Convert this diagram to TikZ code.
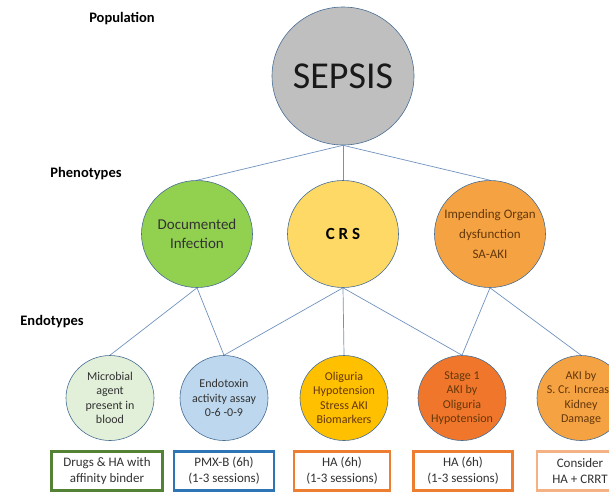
\documentclass[tikz,border=0pt]{standalone}
\usepackage{fontspec}
\setmainfont{Carlito}
\usetikzlibrary{shapes.geometric}

\definecolor{rimblue}{RGB}{72,110,150}
\definecolor{linkblue}{RGB}{112,146,190}
\definecolor{sepsisgray}{RGB}{191,191,191}
\definecolor{infgreen}{RGB}{146,208,80}
\definecolor{crsyellow}{RGB}{255,217,102}
\definecolor{organorange}{RGB}{245,163,66}
\definecolor{microgreen}{RGB}{226,240,217}
\definecolor{toxinblue}{RGB}{189,215,238}
\definecolor{oligold}{RGB}{255,192,0}
\definecolor{stagered}{RGB}{239,118,42}
\definecolor{akiorange}{RGB}{245,162,66}
\definecolor{boxgreen}{RGB}{84,130,53}
\definecolor{boxblue}{RGB}{46,117,182}
\definecolor{boxorange}{RGB}{237,125,49}
\definecolor{boxpeach}{RGB}{244,177,131}
\definecolor{txtgray}{RGB}{50,50,50}
\definecolor{txtbrown}{RGB}{100,55,10}

\tikzset{
  blob/.style={ellipse, draw=rimblue, line width=0.6pt, inner sep=-10pt, align=center},
  pheno/.style={blob, minimum width=111pt, minimum height=107pt},
  endo/.style={blob, minimum width=88pt, minimum height=85pt, font=\fontsize{12}{14.5}\selectfont},
  treat/.style={draw, line width=2.6pt, fill=white, minimum height=39pt, inner sep=0pt,
    align=center, text=txtgray, font=\fontsize{13}{16}\selectfont},
  link/.style={draw=linkblue, line width=0.7pt},
  level/.style={font=\bfseries\fontsize{14.5}{17}\selectfont}
}

\begin{document}
\begin{tikzpicture}[x=1pt,y=-1pt]
  \useasboundingbox (0,0) rectangle (609,493);
  \clip (0,0) rectangle (609,493);

  % levels
  \node[level] (pop) at (122,19) {Population};
  \node[level] (phen) at (86,174) {Phenotypes};
  \node[level] (endt) at (52,322) {Endotypes};

  % population
  \node[blob, fill=sepsisgray, minimum width=142pt, minimum height=138pt,
    font=\fontsize{38}{42}\selectfont, text=black!90] (sepsis) at (343,76) {SEPSIS};

  % phenotypes
  \node[pheno, fill=infgreen, text=txtgray, font=\fontsize{15}{19}\selectfont] (infect) at (197,234) {Documented\\Infection};
  \node[pheno, fill=crsyellow, font=\bfseries\fontsize{17}{20}\selectfont] (crs) at (343,234) {C R S};
  \node[pheno, fill=organorange, text=txtbrown, font=\fontsize{13}{20}\selectfont] (organ) at (490,234) {Impending Organ\\dysfunction\\SA-AKI};

  % endotypes
  \node[endo, fill=microgreen, text=txtgray] (microb) at (110,398) {Microbial\\agent\\present in\\blood};
  \node[endo, fill=toxinblue, text=txtgray] (toxin) at (224,398) {Endotoxin\\activity assay\\0-6 -0-9};
  \node[endo, fill=oligold, text=txtbrown] (oligo) at (344,398) {Oliguria\\Hypotension\\Stress AKI\\Biomarkers};
  \node[endo, fill=stagered, text=txtbrown] (stage) at (462,398) {Stage 1\\AKI by\\Oliguria\\Hypotension};
  \node[endo, fill=akiorange, text=txtbrown] (aki) at (581,398) {AKI by\\S. Cr. Increase\\Kidney\\Damage};

  % treatments
  \node[treat, draw=boxgreen, minimum width=111pt] (drugs) at (107,471) {Drugs \& HA with\\affinity binder};
  \node[treat, draw=boxblue, minimum width=100pt] (pmx) at (224,471) {PMX-B (6h)\\(1-3 sessions)};
  \node[treat, draw=boxorange, minimum width=96pt] (haone) at (342,471) {HA (6h)\\(1-3 sessions)};
  \node[treat, draw=boxorange, minimum width=99pt] (hatwo) at (463,471) {HA (6h)\\(1-3 sessions)};
  \node[treat, draw=boxpeach, minimum width=86pt] (consider) at (580,471) {Consider\\HA + CRRT};

  % links
  \draw[link] (sepsis.south) -- (infect.north);
  \draw[link] (sepsis.south) -- (crs.north);
  \draw[link] (sepsis.south) -- (organ.north);
  \draw[link] (infect.south) -- (microb.north);
  \draw[link] (infect.south) -- (toxin.north);
  \draw[link] (crs.south) -- (toxin.north);
  \draw[link] (crs.south) -- (oligo.north);
  \draw[link] (crs.south) -- (stage.north);
  \draw[link] (organ.south) -- (stage.north);
  \draw[link] (organ.south) -- (aki.north);
\end{tikzpicture}
\end{document}
